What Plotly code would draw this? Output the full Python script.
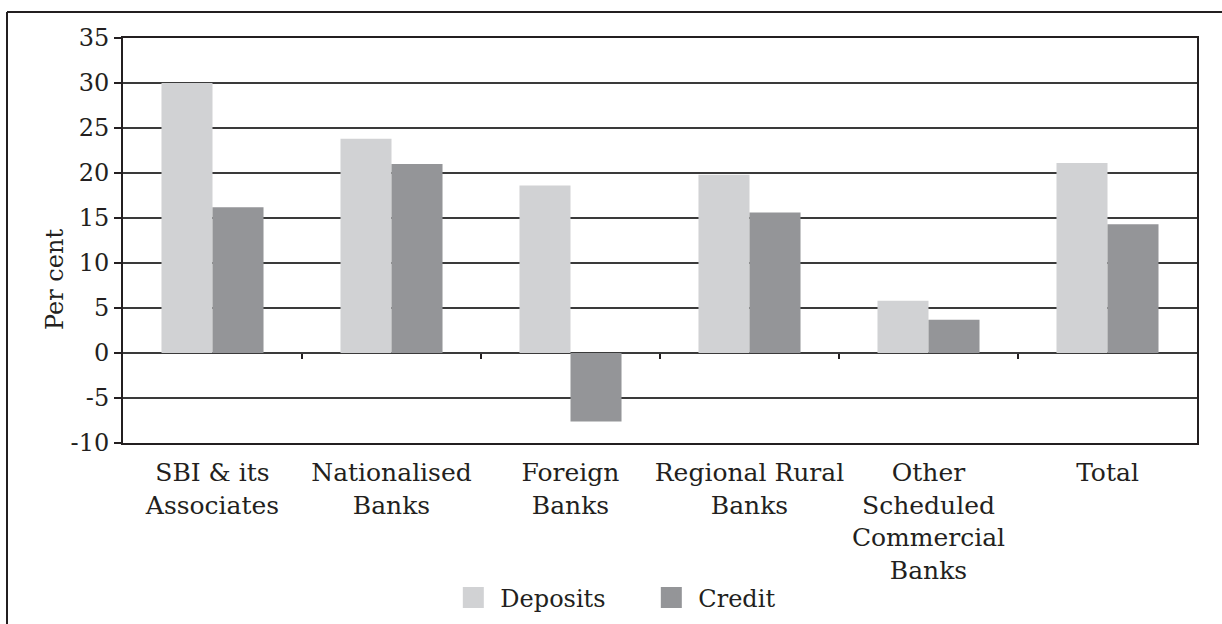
import plotly.graph_objects as go

categories = ["SBI & its<br>Associates", "Nationalised<br>Banks", "Foreign<br>Banks",
              "Regional Rural<br>Banks", "Other<br>Scheduled<br>Commercial<br>Banks", "Total"]
deposits = [30.0, 23.8, 18.6, 19.8, 5.8, 21.1]
credit = [16.2, 21.0, -7.6, 15.6, 3.7, 14.3]
y_ticks = [-10, -5, 0, 5, 10, 15, 20, 25, 30, 35]
y_ticktext = ["-10", "-5", "0", "5", "10", "15", "20", "25", "30", "35"]

FONT = "DejaVu Serif"
INK = "#231f20"
C_DEP = "#d1d2d4"
C_CRE = "#949598"
W, H = 1222, 624
L, R, T, B = 123, 25, 38, 181
pw, ph = W - L - R, H - T - B

fig = go.Figure()
fig.add_trace(go.Bar(x=list(range(6)), y=deposits, name="Deposits", showlegend=False,
                     marker=dict(color=C_DEP, line=dict(width=0))))
fig.add_trace(go.Bar(x=list(range(6)), y=credit, name="Credit", showlegend=False,
                     marker=dict(color=C_CRE, line=dict(width=0))))
# legend entries with larger square swatches
for nm, col in [("Deposits", C_DEP), ("Credit", C_CRE)]:
    fig.add_trace(go.Scatter(x=[None], y=[None], mode="markers", name=nm,
                             marker=dict(symbol="square", size=16, color=col,
                                         line=dict(color=col, width=5))))
# invisible trace on xaxis2 to activate it (category boundary ticks at zero)
fig.add_trace(go.Scatter(x=[0], y=[0], xaxis="x2", mode="markers",
                         marker=dict(opacity=0), showlegend=False, hoverinfo="skip"))

fig.update_layout(
    width=W, height=H,
    margin=dict(l=L, r=R, t=T, b=B, autoexpand=False),
    paper_bgcolor="white", plot_bgcolor="white",
    barmode="group", bargap=0.43, bargroupgap=0,
    font=dict(family=FONT, size=24, color=INK),
    showlegend=True,
    legend=dict(orientation="h", x=0.4854, xanchor="center", y=(443 - 598) / ph,
                yanchor="middle", font=dict(size=24), itemwidth=44,
                entrywidth=139, entrywidthmode="pixels",
                bgcolor="rgba(0,0,0,0)"),
    xaxis=dict(range=[-0.5, 5.5], tickmode="array", tickvals=list(range(6)),
               ticktext=categories, showgrid=False, zeroline=False,
               showline=True, linecolor=INK, linewidth=2, mirror=True,
               ticks="", ticklabelstandoff=6, tickfont=dict(size=25)),
    xaxis2=dict(range=[-0.5, 5.5], overlaying="x", anchor="free",
                position=10 / 45, tickmode="array",
                tickvals=[0.5, 1.5, 2.5, 3.5, 4.5], ticks="outside", ticklen=5,
                tickwidth=1.5, tickcolor=INK, showticklabels=False,
                showgrid=False, zeroline=False, showline=False),
    yaxis=dict(range=[-10, 35], tickmode="array", tickvals=y_ticks, ticktext=y_ticktext,
               showgrid=True, gridcolor="#3a3a3a", gridwidth=1.5,
               zeroline=True, zerolinecolor="#3a3a3a", zerolinewidth=1.5,
               showline=True, linecolor=INK, linewidth=2, mirror=True,
               ticks="outside", ticklen=7, tickwidth=1.5, tickcolor=INK,
               tickfont=dict(size=24)),
)

fig.add_annotation(text="Per cent", textangle=-90, xref="paper", yref="paper",
                   x=(55 - L) / pw, y=(443 - 280) / ph, showarrow=False,
                   font=dict(size=24), xanchor="center", yanchor="middle")

# page frame: top and left rules only
fx, fy = (7 - L) / pw, (443 - 12) / ph
fig.add_shape(type="line", xref="paper", yref="paper",
              x0=fx, x1=(W - L) / pw, y0=fy, y1=fy,
              line=dict(color=INK, width=2), layer="below")
fig.add_shape(type="line", xref="paper", yref="paper",
              x0=fx, x1=fx, y0=fy, y1=(443 - H) / ph,
              line=dict(color=INK, width=2), layer="below")

fig.write_html("out.html", config={"displayModeBar": False},
               post_script="document.body.style.margin='0px';document.body.style.overflow='hidden';")
